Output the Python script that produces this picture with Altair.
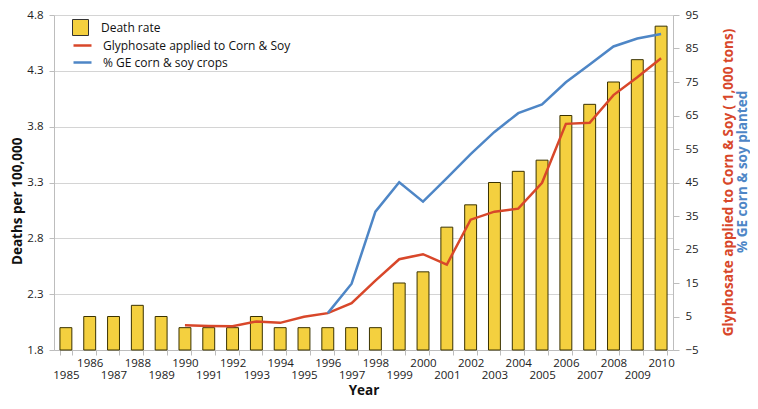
import altair as alt
import pandas as pd

years = list(range(1985, 2011))
death_rate = [2.0, 2.1, 2.1, 2.2, 2.1, 2.0, 2.0, 2.0, 2.1, 2.0, 2.0, 2.0, 2.0,
              2.0, 2.4, 2.5, 2.9, 3.1, 3.3, 3.4, 3.5, 3.9, 4.0, 4.2, 4.4, 4.7]

gly_years = list(range(1990, 2011))
glyphosate = [2.4, 2.2, 2.1, 3.5, 3.1, 4.9, 6.0, 9.0, 15.7, 22.1, 23.6, 20.5,
              33.9, 36.3, 37.2, 44.9, 62.5, 62.8, 71.1, 76.4, 82.1]

ge_years = list(range(1996, 2011))
ge_pct = [6.0, 14.8, 36.3, 45.1, 39.3, 46.3, 53.5, 60.1, 65.7, 68.3, 74.9,
          80.2, 85.6, 88.0, 89.3]

left_ticks = [1.8, 2.3, 2.8, 3.3, 3.8, 4.3, 4.8]
right_ticks = [-5, 5, 15, 25, 35, 45, 55, 65, 75, 85, 95]

S_BAR = "Death rate"
S_GLY = "Glyphosate applied to Corn & Soy"
S_GE = "% GE corn & soy crops"

RED = "#D8472A"
BLUE = "#4E86C6"
YELLOW = "#F4D03F"
FONT = "Open Sans"

df_bar = pd.DataFrame({"year": years, "rate": death_rate, "series": S_BAR})
df_gly = pd.DataFrame({"year": gly_years, "val": glyphosate, "series": S_GLY})
df_ge = pd.DataFrame({"year": ge_years, "val": ge_pct, "series": S_GE})

W, H = 619, 335
TITLE_SIZE = 13.5

x_enc = alt.X(
    "year:O",
    title="Year",
    scale=alt.Scale(paddingInner=0.5, paddingOuter=0.25),
    axis=alt.Axis(
        labelAngle=0,
        tickBand="extent",
        labelOverlap=False,
        labelExpr="datum.value % 2 == 0 ? [datum.label] : ['', datum.label]",
        labelLineHeight=12,
        labelPadding=2,
        tickSize=5,
        titlePadding=3,
        titleFontSize=TITLE_SIZE,
        titleFontWeight="bold",
    ),
)

stroke_scale = alt.Scale(domain=[S_GLY, S_GE], range=[RED, BLUE])
stroke_legend = alt.Legend(
    title=None,
    orient="none",
    legendX=18,
    legendY=20,
    symbolType="stroke",
    symbolSize=324,
    symbolStrokeWidth=2.5,
    labelOffset=10,
    rowPadding=-3,
    padding=0,
    labelFontSize=12,
    labelFont=FONT,
    labelColor="#111",
    labelLimit=400,
)

bars = alt.Chart(df_bar).mark_bar(stroke="#3a3200", strokeWidth=1).encode(
    x=x_enc,
    y=alt.Y(
        "rate:Q",
        scale=alt.Scale(domain=[1.8, 4.8], zero=False, nice=False),
        axis=alt.Axis(
            values=left_ticks,
            format=".1f",
            title="Deaths per 100,000",
            titleFontSize=TITLE_SIZE,
            titleFontWeight="bold",
            titleAngle=270,
            titleAlign="center",
            titleBaseline="middle",
            titleX=-37,
            titleY=185.8,
            tickSize=5,
            labelPadding=6,
            grid=True,
        ),
    ),
    y2=alt.datum(1.8),
    fill=alt.Fill(
        "series:N",
        scale=alt.Scale(domain=[S_BAR], range=[YELLOW]),
        legend=alt.Legend(
            title=None,
            orient="none",
            legendX=18,
            legendY=4,
            symbolType="square",
            symbolSize=256,
            symbolStrokeColor="#333",
            symbolStrokeWidth=1,
            labelOffset=12,
            padding=0,
            labelFontSize=12,
            labelFont=FONT,
            labelColor="#111",
        ),
    ),
)

right_scale = alt.Scale(domain=[-5, 95], zero=False, nice=False)

red_line = alt.Chart(df_gly).mark_line(strokeWidth=2.5).encode(
    x=alt.X("year:O"),
    y=alt.Y(
        "val:Q",
        scale=right_scale,
        axis=alt.Axis(
            orient="right",
            values=right_ticks,
            grid=False,
            tickSize=6,
            labelPadding=6,
            title="Glyphosate applied to Corn & Soy ( 1,000 tons)",
            titleColor=RED,
            titleFontSize=TITLE_SIZE,
            titleFontWeight="bold",
            titleAngle=270,
            titleAlign="center",
            titleBaseline="middle",
            titleX=55,
            titleY=167,
        ),
    ),
    stroke=alt.Stroke("series:N", scale=stroke_scale, legend=stroke_legend),
)

blue_line = alt.Chart(df_ge).mark_line(strokeWidth=2.5).encode(
    x=alt.X("year:O"),
    y=alt.Y(
        "val:Q",
        scale=right_scale,
        axis=alt.Axis(
            orient="right",
            grid=False,
            labels=False,
            ticks=False,
            domain=False,
            title="% GE corn & soy planted",
            titleColor=BLUE,
            titleFontSize=TITLE_SIZE,
            titleFontWeight="bold",
            titleAngle=270,
            titleAlign="center",
            titleBaseline="middle",
            titleX=69,
            titleY=156.4,
        ),
    ),
    stroke=alt.Stroke("series:N", scale=stroke_scale, legend=stroke_legend),
)

chart = (
    alt.layer(bars, red_line, blue_line)
    .resolve_scale(y="independent")
    .properties(
        width=W,
        height=H,
        autosize=alt.AutoSizeParams(type="none"),
        padding={"left": 46, "top": 7, "right": 77, "bottom": 51},
    )
    .configure_view(stroke=None)
    .configure_axis(
        labelFont=FONT,
        titleFont=FONT,
        labelFontSize=11.5,
        labelColor="#222",
        titleColor="#111",
        domainColor="#bdbdbd",
        tickColor="#bdbdbd",
        gridColor="#d4d4d4",
    )
)

chart.save("out.html", embed_options={"renderer": "svg", "actions": False})
